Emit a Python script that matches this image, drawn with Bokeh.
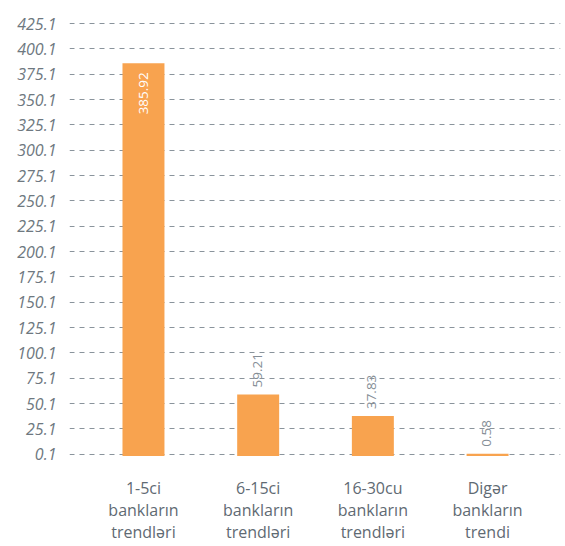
from bokeh.plotting import figure
from bokeh.models import ColumnDataSource, FixedTicker, PrintfTickFormatter, Range1d
from bokeh.core.properties import value
from bokeh.embed import file_html
from bokeh.resources import INLINE
import math

categories = ["1-5ci\nbankların\ntrendləri", "6-15ci\nbankların\ntrendləri",
              "16-30cu\nbankların\ntrendləri", "Digər\nbankların\ntrendi"]
values = [385.92, 59.21, 37.83, 0.58]
y_ticks = [0.1, 25.1, 50.1, 75.1, 100.1, 125.1, 150.1, 175.1, 200.1, 225.1,
           250.1, 275.1, 300.1, 325.1, 350.1, 375.1, 400.1, 425.1]

xs = list(range(len(categories)))
labels = [f"{v:.2f}" for v in values]
inside = [v > 300 for v in values]

p = figure(frame_width=491, frame_height=444, output_backend="svg", toolbar_location=None,
           x_range=Range1d(-0.645, 3.636), y_range=Range1d(-5, 433),
           min_border_left=69, min_border_right=5, min_border_top=15, min_border_bottom=87)
p.outline_line_color = None
p.background_fill_color = "white"
p.border_fill_color = "white"

p.vbar(x=xs, top=values, bottom=-1.6, width=0.366, fill_color="#F8A34F", line_color=None)

src_in = ColumnDataSource(dict(x=[x for x, i in zip(xs, inside) if i],
                               y=[v for v, i in zip(values, inside) if i],
                               t=[l for l, i in zip(labels, inside) if i]))
src_out = ColumnDataSource(dict(x=[x for x, i in zip(xs, inside) if not i],
                                y=[v for v, i in zip(values, inside) if not i],
                                t=[l for l, i in zip(labels, inside) if not i]))
p.text(x="x", y="y", text="t", source=src_in, angle=math.pi / 2,
       text_align="right", text_baseline="middle", x_offset=0, y_offset=9,
       text_font=value("Open Sans"), text_font_size="13.5px", text_color="white")
p.text(x="x", y="y", text="t", source=src_out, angle=math.pi / 2,
       text_align="left", text_baseline="middle", x_offset=-1, y_offset=-7,
       text_font=value("Open Sans"), text_font_size="13.5px", text_color="#858e96")

p.xgrid.grid_line_color = None
p.ygrid.grid_line_color = "#8a949c"
p.ygrid.grid_line_dash = "5 5"
p.ygrid.grid_line_width = 1.2
p.ygrid.ticker = FixedTicker(ticks=y_ticks)

p.yaxis.ticker = FixedTicker(ticks=y_ticks)
p.yaxis.formatter = PrintfTickFormatter(format="%.1f")
p.yaxis.axis_line_color = None
p.yaxis.major_tick_line_color = None
p.yaxis.minor_tick_line_color = None
p.yaxis.major_label_text_font = "Open Sans"
p.yaxis.major_label_text_font_style = "italic"
p.yaxis.major_label_text_font_size = "16px"
p.yaxis.major_label_text_color = "#6e7880"
p.yaxis.major_label_standoff = 7

p.xaxis.ticker = FixedTicker(ticks=xs)
p.xaxis.major_label_overrides = {x: c for x, c in zip(xs, categories)}
p.xaxis.axis_line_color = None
p.xaxis.major_tick_line_color = None
p.xaxis.minor_tick_line_color = None
p.xaxis.major_label_text_font = "Open Sans"
p.xaxis.major_label_text_font_size = "16px"
p.xaxis.major_label_text_line_height = 1.02
p.xaxis.major_label_text_color = "#5f6a73"
p.xaxis.major_label_standoff = 11

open("out.html", "w").write(file_html(p, INLINE))
